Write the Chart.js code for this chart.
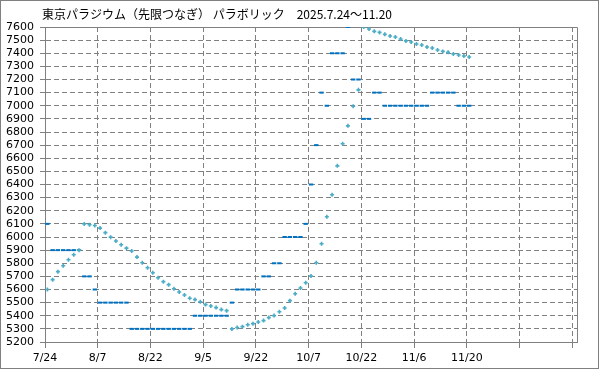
<!DOCTYPE html>
<html>
<head>
<meta charset="utf-8">
<script src="https://cdn.jsdelivr.net/npm/chart.js@4/dist/chart.umd.min.js"></script>
<style>
  body { margin: 0; background: #fff; }
  canvas { display: block; }
</style>
</head>
<body>
<canvas id="myChart" width="599" height="369"></canvas>
<script>
var chartTitle = '東京パラジウム（先限つなぎ） パラボリック　2025.7.24〜11.20';

// 10営業日ごとの日付ラベル
var tickLabels = ['7/24', '8/7', '8/22', '9/5', '9/22', '10/7', '10/22', '11/6', '11/20', '', ''];

// 終値（日足）
var closes = [
  6100, 5900, 5900, 5900, 5900, 5900, 5900, 5700, 5700, 5600,
  5500, 5500, 5500, 5500, 5500, 5500, 5300, 5300, 5300, 5300,
  5300, 5300, 5300, 5300, 5300, 5300, 5300, 5300, 5400, 5400,
  5400, 5400, 5400, 5400, 5400, 5500, 5600, 5600, 5600, 5600,
  5600, 5700, 5700, 5800, 5800, 6000, 6000, 6000, 6000, 6100,
  6400, 6700, 7100, 7000, 7400, 7400, 7400, 7600, 7200, 7200,
  6900, 6900, 7100, 7100, 7000, 7000, 7000, 7000, 7000, 7000,
  7000, 7000, 7000, 7100, 7100, 7100, 7100, 7100, 7000, 7000,
  7000
];

// パラボリック SAR
var sar = [
  5600, 5675, 5736, 5781, 5827, 5865, 5900, 6100, 6093, 6088,
  6068, 6033, 5999, 5969, 5941, 5915, 5893, 5847, 5804, 5766,
  5728, 5690, 5660, 5637, 5606, 5581, 5558, 5533, 5523, 5507,
  5485, 5474, 5462, 5447, 5439, 5300, 5310, 5317, 5332, 5340,
  5352, 5363, 5386, 5401, 5431, 5459, 5515, 5568, 5611, 5652,
  5702, 5804, 5949, 6154, 6322, 6542, 6710, 6847, 6996, 7121,
  7600, 7585, 7567, 7559, 7544, 7532, 7524, 7509, 7494, 7486,
  7471, 7463, 7448, 7440, 7425, 7414, 7407, 7395, 7387, 7379,
  7372
];

var yMin = 5200, yMax = 7600, yStep = 100;

// points sit a little right of the day's grid line
var dayShift = 0.45;
function toPoints(arr) {
  return arr.map(function (v, i) { return { x: i + dayShift, y: v }; });
}

var framePlugin = {
  id: 'frame',
  beforeDatasetsDraw: function (chart) {
    var ctx = chart.ctx, a = chart.chartArea;
    ctx.save();
    ctx.strokeStyle = '#808080';
    ctx.lineWidth = 1;
    ctx.beginPath();
    ctx.moveTo(a.left, a.top + 0.5);
    ctx.lineTo(a.right + 0.5, a.top + 0.5);
    ctx.lineTo(a.right + 0.5, a.bottom + 1);
    ctx.stroke();
    ctx.restore();
  },
  afterDraw: function (chart) {
    var ctx = chart.ctx;
    ctx.save();
    ctx.strokeStyle = '#808080';
    ctx.lineWidth = 1;
    ctx.strokeRect(0.5, 0.5, chart.width - 1, chart.height - 1);
    ctx.fillStyle = '#000';
    ctx.font = '12px "Noto Sans CJK JP"';
    ctx.textBaseline = 'middle';
    ctx.fillText(chartTitle, 42, 14);
    ctx.restore();
  }
};

var tickFont = { family: 'DejaVu Sans', size: 11 };

var ctx = document.getElementById('myChart');
var myChart = new Chart(ctx, {
  type: 'scatter',
  data: {
    datasets: [{
      label: 'SAR',
      data: toPoints(sar),
      order: 0,
      pointStyle: 'cross',
      pointRadius: 2,
      pointBorderWidth: 1.6,
      borderColor: '#4BACC6',
      backgroundColor: '#4BACC6'
    }, {
      label: '終値',
      data: toPoints(closes),
      order: 1,
      pointStyle: 'line',
      pointRadius: 2.2,
      pointBorderWidth: 2,
      borderColor: '#0070C0',
      backgroundColor: '#0070C0'
    }]
  },
  options: {
    responsive: false,
    animation: false,
    events: [],
    layout: { padding: { top: 27, right: 22, left: 0, bottom: 0 } },
    plugins: {
      legend: { display: false },
      tooltip: { enabled: false },
      title: { display: false }
    },
    scales: {
      x: {
        type: 'linear',
        min: 0,
        max: 100.9,
        afterBuildTicks: function (s) {
          s.ticks = tickLabels.map(function (_, k) { return { value: k * 10 }; });
        },
        afterFit: function (s) { s.height = 27; },
        grid: { color: '#808080', tickColor: '#808080', tickLength: 6, tickBorderDash: [] },
        border: { color: '#808080', dash: [5, 3] },
        ticks: {
          autoSkip: false,
          maxRotation: 0,
          padding: 4,
          color: '#000',
          font: tickFont,
          callback: function (v, idx) { return tickLabels[idx]; }
        }
      },
      y: {
        min: yMin,
        max: yMax,
        afterBuildTicks: function (s) {
          var t = [];
          for (var v = yMin; v <= yMax; v += yStep) t.push({ value: v });
          s.ticks = t;
        },
        afterFit: function (s) { s.width = 45; },
        grid: { color: '#808080', tickColor: '#808080', tickLength: 5, tickBorderDash: [] },
        border: { color: '#808080', dash: [5, 3] },
        ticks: {
          autoSkip: false,
          padding: 6,
          color: '#000',
          font: tickFont,
          callback: function (v) { return String(v); }
        }
      }
    }
  },
  plugins: [framePlugin]
});
</script>
</body>
</html>
